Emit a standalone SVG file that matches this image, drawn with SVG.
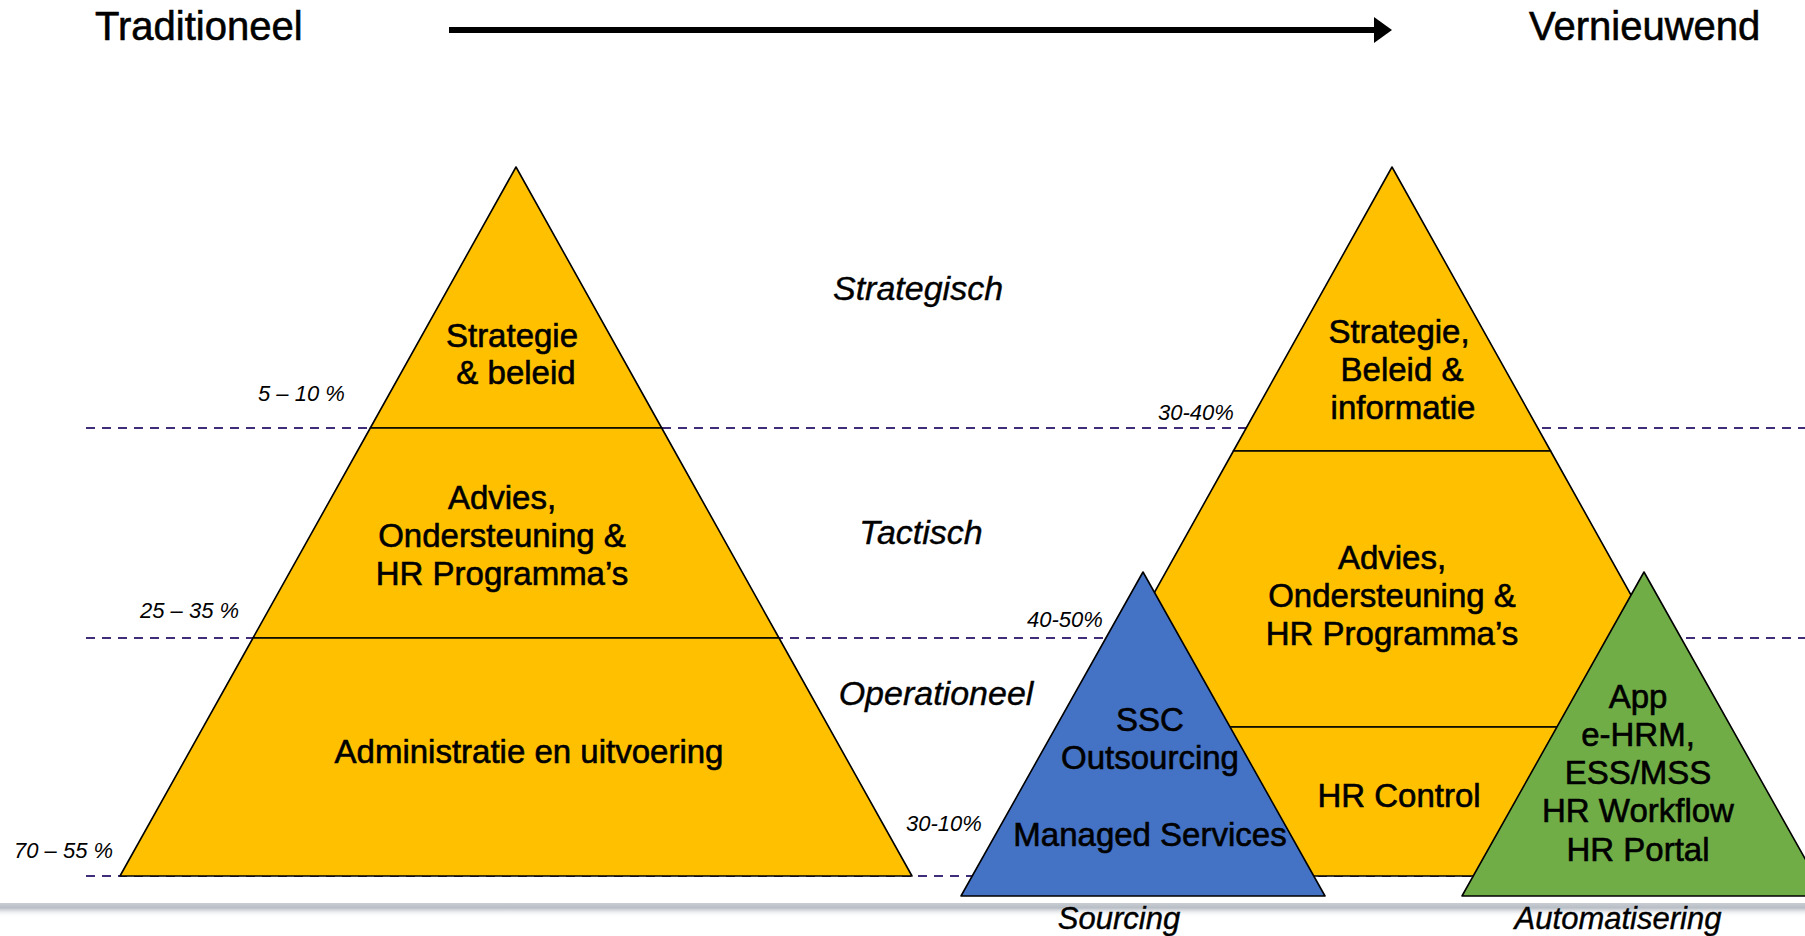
<svg xmlns="http://www.w3.org/2000/svg" width="1805" height="936" viewBox="0 0 1805 936">
<defs>
<style>
.t{font-family:"Liberation Sans",Arial,sans-serif;fill:#000}
.node{font-size:33px;text-anchor:middle;stroke:#000;stroke-width:0.6}
.hdr{font-size:40px;stroke:#000;stroke-width:0.6}
.lvl{font-size:34px;font-style:italic;text-anchor:middle;stroke:#000;stroke-width:0.4}
.pct{font-size:22px;font-style:italic}
.cat{font-size:31px;font-style:italic;text-anchor:middle;stroke:#000;stroke-width:0.4}
.y{fill:#FFC000;stroke:#000;stroke-width:1.6;stroke-linejoin:round}
.b{fill:#4472C4;stroke:#000;stroke-width:1.6;stroke-linejoin:round}
.g{fill:#70AD47;stroke:#000;stroke-width:1.6;stroke-linejoin:round}
.dash{stroke:#402c78;stroke-width:2;stroke-dasharray:9 7;fill:none}
</style>
<linearGradient id="shadow" x1="0" y1="0" x2="0" y2="1">
<stop offset="0" stop-color="#c9cdd3"/>
<stop offset="0.35" stop-color="#b8bec6"/>
<stop offset="1" stop-color="#ffffff" stop-opacity="0"/>
</linearGradient>
</defs>
<rect width="1805" height="936" fill="#fff"/>

<rect x="0" y="903" width="1805" height="14" fill="url(#shadow)"/>

<g id="guides">
<line class="dash" x1="86" y1="428" x2="1805" y2="428"/>
<line class="dash" x1="86" y1="638" x2="1805" y2="638"/>
<line class="dash" x1="86" y1="876" x2="1500" y2="876"/>
</g>

<g id="connectors">
<line x1="449" y1="30" x2="1376" y2="30" stroke="#000" stroke-width="6"/>
<polygon points="1374,17 1392,30 1374,43" fill="#000"/>
</g>

<text class="t hdr" x="95" y="40">Traditioneel</text>
<text class="t hdr" x="1529" y="40">Vernieuwend</text>

<text class="t lvl" x="918" y="300">Strategisch</text>
<text class="t lvl" x="921" y="544">Tactisch</text>
<text class="t lvl" x="936" y="705">Operationeel</text>

<g id="left-strategie">
<polygon class="y" points="516,167 661.7,428 370.3,428"/>
<text class="t node" x="512" y="347">Strategie</text>
<text class="t node" x="516" y="384">&amp; beleid</text>
</g>
<g id="left-advies">
<polygon class="y" points="370.3,428 661.7,428 779,638 253,638"/>
<text class="t node" x="502" y="509">Advies,</text>
<text class="t node" x="502" y="547">Ondersteuning &amp;</text>
<text class="t node" x="502" y="585">HR Programma’s</text>
</g>
<g id="left-administratie">
<polygon class="y" points="253,638 779,638 912,876 120,876"/>
<text class="t node" x="529" y="763">Administratie en uitvoering</text>
</g>

<g id="right-strategie">
<polygon class="y" points="1392,167 1550.6,451 1233.4,451"/>
<text class="t node" x="1399" y="343">Strategie,</text>
<text class="t node" x="1402" y="381">Beleid &amp;</text>
<text class="t node" x="1403" y="419">informatie</text>
</g>
<g id="right-advies">
<polygon class="y" points="1233.4,451 1550.6,451 1704.7,727 1079.3,727"/>
<text class="t node" x="1392" y="569">Advies,</text>
<text class="t node" x="1392" y="607">Ondersteuning &amp;</text>
<text class="t node" x="1392" y="645">HR Programma’s</text>
</g>
<g id="right-hrcontrol">
<polygon class="y" points="1079.3,727 1704.7,727 1788,876 996,876"/>
<text class="t node" x="1399" y="807">HR Control</text>
</g>

<g id="sourcing">
<polygon class="b" points="1143,572 1325,896 961,896"/>
<text class="t node" x="1150" y="731">SSC</text>
<text class="t node" x="1150" y="769">Outsourcing</text>
<text class="t node" x="1150" y="846">Managed Services</text>
</g>
<g id="automatisering">
<polygon class="g" points="1644,572 1826,896 1462,896"/>
<text class="t node" x="1638" y="708">App</text>
<text class="t node" x="1638" y="746">e-HRM,</text>
<text class="t node" x="1638" y="784">ESS/MSS</text>
<text class="t node" x="1638" y="822">HR Workflow</text>
<text class="t node" x="1638" y="861">HR Portal</text>
</g>

<text class="t pct" x="258" y="401">5 – 10 %</text>
<text class="t pct" x="140" y="618">25 – 35 %</text>
<text class="t pct" x="14" y="858">70 – 55 %</text>
<text class="t pct" x="1158" y="420">30-40%</text>
<text class="t pct" x="1027" y="627">40-50%</text>
<text class="t pct" x="906" y="831">30-10%</text>

<text class="t cat" x="1119" y="929">Sourcing</text>
<text class="t cat" x="1618" y="929">Automatisering</text>
</svg>
